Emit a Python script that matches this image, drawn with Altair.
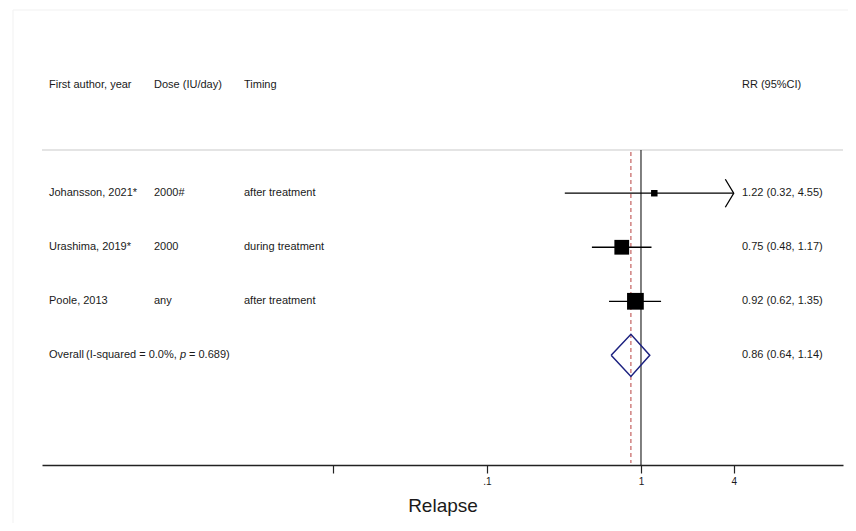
import altair as alt
import pandas as pd

# ---------------- data ----------------
authors = ["Johansson, 2021*", "Urashima, 2019*", "Poole, 2013"]
doses = ["2000#", "2000", "any"]
timings = ["after treatment", "during treatment", "after treatment"]
rr = [1.22, 0.75, 0.92]
rr_lo = [0.32, 0.48, 0.62]
rr_hi = [4.55, 1.17, 1.35]
weights = [4.6, 41.2, 54.2]

overall_rr = 0.86
overall_lo = 0.64
overall_hi = 1.14
overall_i2 = "0.0%"
overall_p = "0.689"

headers = ["First author, year", "Dose (IU/day)", "Timing", "RR (95%CI)"]
tick_values = [0.01, 0.1, 1, 4]
tick_labels = ["", ".1", "1", "4"]
x_title = "Relapse"

# ---------------- layout ----------------
W, H = 801, 315
FONT = "Liberation Sans"
TXT = "#1a1a1a"
col_x = [7, 112, 202, 700]
overall_x = [7, 44, 138, 147]
diamond_half = 0.39

x_scale = alt.Scale(type="log", domain=[1.289e-4, 20.5], nice=False)
y_scale = alt.Scale(domain=[0.2, 6.03], reverse=True, nice=False, zero=False)

n = len(authors)
study = pd.DataFrame({
    "author": authors, "dose": doses, "timing": timings,
    "rr": rr, "lo": rr_lo, "hi": rr_hi, "weight": weights,
    "row": list(range(1, n + 1)),
})
clip_hi = max(tick_values)
study["hi_draw"] = study["hi"].clip(upper=clip_hi)
study["label"] = [f"{a:.2f} ({b:.2f}, {c:.2f})" for a, b, c in zip(rr, rr_lo, rr_hi)]
arrows = study[study["hi"] > clip_hi]

orow = n + 1
overall = pd.DataFrame({
    "row": [orow],
    "label": [f"{overall_rr:.2f} ({overall_lo:.2f}, {overall_hi:.2f})"],
    "t0": ["Overall"],
    "t1": [f"(I-squared = {overall_i2},"],
    "t2": ["p"],
    "t3": [f"= {overall_p})"],
})
diamond = pd.DataFrame({
    "x": [overall_lo, overall_rr, overall_hi, overall_rr, overall_lo],
    "row": [orow, orow - diamond_half, orow, orow + diamond_half, orow],
    "order": [0, 1, 2, 3, 4],
})
head_df = pd.DataFrame({"row": [-1]})

label_expr = " ".join(
    f"abs(datum.value / {v} - 1) < 1e-6 ? '{l}' :" for v, l in zip(tick_values, tick_labels)
) + " datum.label"

Y = alt.Y("row:Q", scale=y_scale, axis=None)

ci = alt.Chart(study).mark_rule(color="black", strokeWidth=1.3).encode(
    x=alt.X("lo:Q", scale=x_scale, axis=alt.Axis(
        values=tick_values, labelExpr=label_expr, title=x_title, grid=False,
        domainColor="#222", domainWidth=1.3, tickColor="#222", tickWidth=1.2,
        tickSize=8, labelFont=FONT, labelFontSize=10, labelColor=TXT,
        labelPadding=3, titleFont=FONT, titleFontSize=19, titleFontWeight="normal",
        titleColor=TXT, titlePadding=10, labelFlush=False, labelOverlap=False)),
    x2="hi_draw:Q",
    y=Y,
)

squares = alt.Chart(study).mark_square(filled=True, color="black", opacity=1).encode(
    x=alt.X("rr:Q", scale=x_scale),
    y=Y,
    size=alt.Size("weight:Q", scale=alt.Scale(domain=[0, max(weights)], range=[20, 280]), legend=None),
)

arrow = alt.Chart(arrows).mark_point(
    shape="M -0.6 -1 L 0 0 L -0.6 1", filled=False, stroke="black",
    strokeWidth=1.3, size=784, opacity=1,
).encode(x=alt.X("hi_draw:Q", scale=x_scale), y=Y)

dia = alt.Chart(diamond).mark_line(color="#1c2180", strokeWidth=1.5, strokeJoin="miter").encode(
    x=alt.X("x:Q", scale=x_scale), y=Y, order="order:Q",
)

null_line = alt.Chart(head_df).mark_rule(color="black", strokeWidth=1).encode(
    x=alt.datum(1, scale=x_scale), y=alt.value(0), y2=alt.value(H),
)
overall_line = alt.Chart(head_df).mark_rule(color="#b8403f", strokeWidth=1, strokeDash=[4, 3]).encode(
    x=alt.datum(overall_rr, scale=x_scale), y=alt.value(2), y2=alt.value(H - 2),
)
top_line = alt.Chart(head_df).mark_rule(color="#c9c9c9", strokeWidth=1.2).encode(
    x=alt.value(0), x2=alt.value(W), y=alt.value(0),
)
frame_top = alt.Chart(head_df).mark_rule(color="#f1f1f1", strokeWidth=1).encode(
    x=alt.value(-29), x2=alt.value(806), y=alt.value(-140),
)
frame_left = alt.Chart(head_df).mark_rule(color="#f1f1f1", strokeWidth=1).encode(
    x=alt.value(-29), y=alt.value(-140), y2=alt.value(H + 60),
)

def txt(df, field, x, size=11, style="normal"):
    return alt.Chart(df).mark_text(
        align="left", baseline="middle", font=FONT, fontSize=size,
        color=TXT, fontStyle=style,
    ).encode(x=alt.value(x), y=Y, text=f"{field}:N")

head_layers = []
for h, cx in zip(headers, col_x):
    head_layers.append(
        alt.Chart(head_df).mark_text(
            align="left", baseline="middle", font=FONT, fontSize=11, color=TXT, text=h,
        ).encode(x=alt.value(cx), y=Y)
    )

layers = [frame_top, frame_left, top_line, null_line, overall_line, ci, arrow, squares, dia,
          txt(study, "author", col_x[0]), txt(study, "dose", col_x[1]),
          txt(study, "timing", col_x[2]), txt(study, "label", col_x[3]),
          txt(overall, "t0", overall_x[0]), txt(overall, "t1", overall_x[1]),
          txt(overall, "t2", overall_x[2], style="italic"),
          txt(overall, "t3", overall_x[3]), txt(overall, "label", col_x[3])] + head_layers

chart = alt.layer(*layers).properties(
    width=W, height=H,
    autosize=alt.AutoSizeParams(type="none"),
    padding={"left": 34, "top": 142, "right": 5, "bottom": 58},
    background="white",
).configure_view(stroke=None)

chart.save("out.html", embed_options={"renderer": "svg", "actions": False})
